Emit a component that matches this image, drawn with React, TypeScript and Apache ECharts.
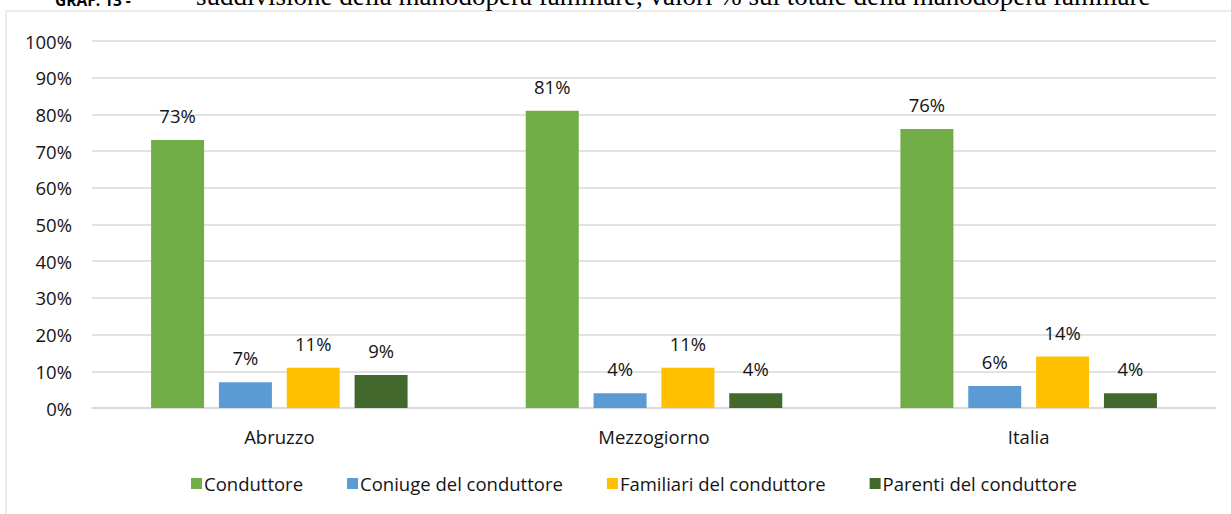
import React, { useEffect, useRef } from "react";
import * as echarts from "echarts";

const categories = ["Abruzzo", "Mezzogiorno", "Italia"];
const seriesNames = [
  "Conduttore",
  "Coniuge del conduttore",
  "Familiari del conduttore",
  "Parenti del conduttore",
];
const conduttore = [73, 81, 76];
const coniuge = [7, 4, 6];
const familiari = [11, 11, 14];
const parenti = [9, 4, 4];
const colors = ["#70AD47", "#5B9BD5", "#FFC000", "#43682B"];
const titleCode = "GRAF. 13 -";
const titleText =
  "suddivisione della manodopera familiare, valori % sul totale della manodopera familiare";

const FONT = "'Open Sans', 'Noto Sans', sans-serif";
const FS = 18.5;
const TXT = "#141414";

export default function App() {
  const ref = useRef<HTMLDivElement>(null);
  useEffect(() => {
    if (!ref.current) return;
    const chart = echarts.init(ref.current, undefined, { renderer: "svg" });
    const values = [conduttore, coniuge, familiari, parenti];
    chart.setOption({
      animation: false,
      backgroundColor: "#ffffff",
      textStyle: { fontFamily: FONT },
      graphic: [
        {
          type: "rect",
          shape: { x: 6, y: 11, width: 1240, height: 520 },
          style: { fill: "none", stroke: "#d9d9d9", lineWidth: 1 },
          silent: true,
        },
        {
          type: "text",
          x: 55,
          y: 8,
          style: {
            text: titleCode,
            font: "bold 15.5px " + FONT,
            fill: "#000",
            verticalAlign: "bottom",
          },
        },
        {
          type: "text",
          x: 196,
          y: 9,
          style: {
            text: titleText,
            font: "27px 'Liberation Serif', 'DejaVu Serif', serif",
            fill: "#000",
            verticalAlign: "bottom",
          },
        },
      ],
      legend: {
        bottom: 16,
        left: 186,
        itemWidth: 11,
        itemHeight: 11,
        itemGap: 44,
        icon: "rect",
        textStyle: { fontSize: FS, color: TXT, fontFamily: FONT, padding: [0, 0, 0, -3] },
        data: seriesNames,
      },
      grid: { left: 92, right: 15, top: 41, bottom: 106 },
      xAxis: {
        type: "category",
        data: categories,
        axisLine: { lineStyle: { color: "#d9d9d9", width: 1.5 } },
        axisTick: { show: false },
        axisLabel: { fontSize: FS, color: TXT, margin: 19, fontFamily: FONT },
      },
      yAxis: {
        type: "value",
        min: 0,
        max: 100,
        interval: 10,
        axisLabel: {
          formatter: "{value}%",
          fontSize: FS,
          color: TXT,
          margin: 20,
          fontFamily: FONT,
        },
        splitLine: { lineStyle: { color: "#d9d9d9", width: 1.5 } },
        axisLine: { show: false },
        axisTick: { show: false },
      },
      series: seriesNames.map((name, i) => ({
        name,
        type: "bar",
        data: values[i],
        barWidth: 53,
        barGap: "28%",
        itemStyle: { color: colors[i] },
        label: {
          show: true,
          position: "top",
          distance: 15,
          formatter: "{c}%",
          fontSize: FS,
          color: TXT,
          fontFamily: FONT,
        },
      })),
    });
    return () => chart.dispose();
  }, []);
  return (
    <div
      ref={ref}
      style={{ position: "fixed", left: 0, top: 0, width: 1231, height: 514 }}
    />
  );
}
